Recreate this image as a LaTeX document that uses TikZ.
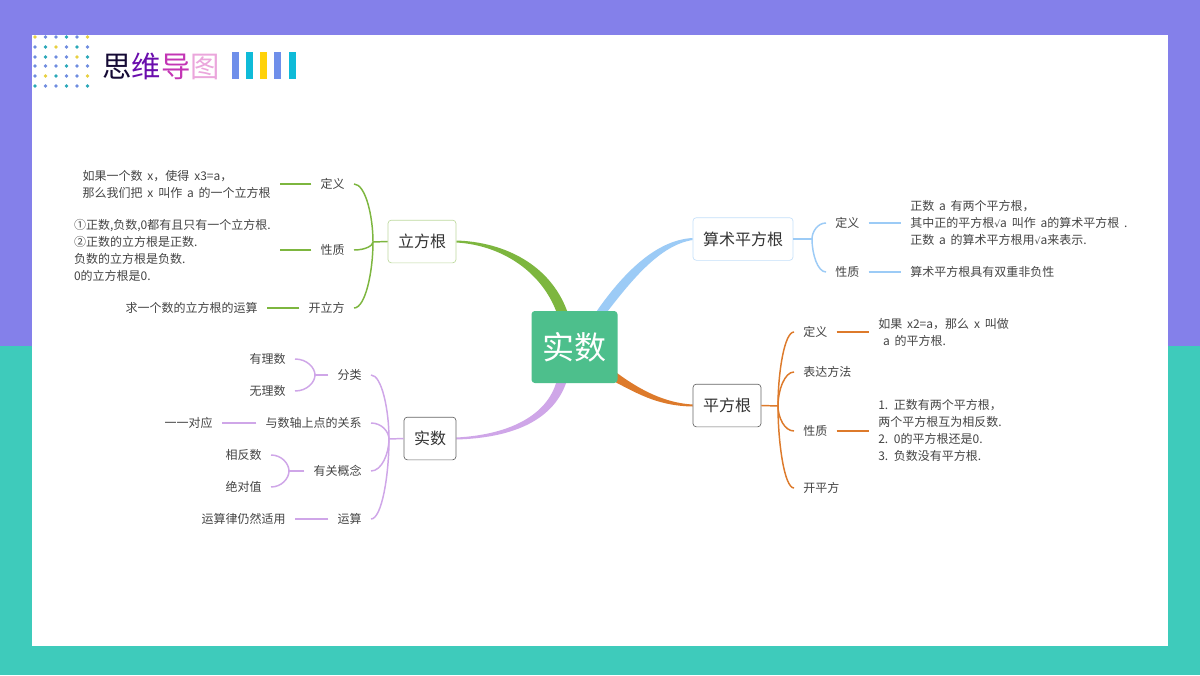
\documentclass[tikz,border=0pt]{standalone}
\usepackage{xcolor}
\usepackage{fontspec}
\setmainfont[WordSpace=1.8]{Noto Sans CJK SC}
\newfontfamily\sqfont{DejaVu Sans}
\usetikzlibrary{calc,backgrounds}

\definecolor{bgtop}{HTML}{8480EA}
\definecolor{bgbot}{HTML}{3ECBBB}
\definecolor{rootc}{HTML}{4DBF8C}
\definecolor{greenc}{HTML}{7DB63F}
\definecolor{bluec}{HTML}{9CCBF6}
\definecolor{orangec}{HTML}{DD7A2B}
\definecolor{purplec}{HTML}{CFA6E8}
\definecolor{dy}{HTML}{E8D040}
\definecolor{db}{HTML}{6F8CE0}
\definecolor{dt}{HTML}{2AA8B8}
\definecolor{txt}{HTML}{444444}
\definecolor{barb}{HTML}{6F8FEA}
\definecolor{bart}{HTML}{0FBBD8}
\definecolor{bary}{HTML}{FFD20A}

\newcommand{\sqr}{{\sqfont\fontsize{7}{7}\selectfont √}}

\tikzset{
  leaf/.style={inner xsep=6.75pt, inner ysep=0pt, align=left, text=txt,
    font=\fontsize{9}{12.75}\selectfont},
  topic/.style={draw, rounded corners=2.5pt, line width=.5pt, fill=white, inner sep=0pt,
    text=black!80, font=\fontsize{12}{14}\selectfont, minimum height=32pt},
  greenline/.style={draw=greenc, line width=1.1pt},
  blueline/.style={draw=bluec, line width=1.1pt},
  orangeline/.style={draw=orangec, line width=1.1pt},
  purpleline/.style={draw=purplec, line width=1.1pt},
}

\begin{document}
\begin{tikzpicture}[x=.75pt,y=-.75pt]
\useasboundingbox (0,0) rectangle (1200,675);

%Central node and topics
\node[fill=rootc, rounded corners=2.5pt, minimum width=64.5pt, minimum height=54pt, inner sep=0pt,
  text=white, font=\fontsize{24}{28}\selectfont] (root) at (574.5,347) {实数};
\node[topic, draw=greenc!50, minimum width=51pt] (lifang) at (422,241.5) {立方根};
\node[topic, draw=bluec!60, minimum width=75pt] (suanshu) at (743,239) {算术平方根};
\node[topic, draw=black!60, minimum width=51pt] (pingfang) at (727,405.5) {平方根};
\node[topic, draw=black!60, minimum width=39pt] (shishu) at (430,438.5) {实数};

%Background
\begin{scope}[on background layer]
\fill[bgtop] (0,0) rectangle (1200,346);
\fill[bgbot] (0,346) rectangle (1200,675);
\fill[white] (32,35) rectangle (1168,646);
%Thick branches
\fill[greenc] ($(lifang.east)+(0,-1)$) .. controls (505,242) and (550,265) .. ($(root.north)+(-7.5,0)$)
  -- ++(0,10) -- ++(-11,0) -- ($(root.north)+(-18.5,0)$)
  .. controls (540,270) and (500,245) .. ($(lifang.east)+(0,1)$) -- cycle;
\fill[bluec] ($(suanshu.west)+(0,-1)$) .. controls (655,240) and (622,275) .. ($(root.north)+(22.5,0)$)
  -- ++(0,10) -- ++(11,0) -- ($(root.north)+(33.5,0)$)
  .. controls (632,280) and (660,245) .. ($(suanshu.west)+(0,1)$) -- cycle;
\fill[orangec] ($(pingfang.west)+(0,-1)$) .. controls (665,403) and (640,390) .. (617,373)
  -- ++(-10,-6) -- ++(0,10) -- (617,383)
  .. controls (640,395) and (660,406) .. ($(pingfang.west)+(0,1)$) -- cycle;
\fill[purplec] ($(shishu.east)+(0,1)$) .. controls (510,438) and (552,422) .. ($(root.south)+(-8.5,0)$)
  -- ++(0,-10) -- ++(-10,0) -- ($(root.south)+(-18.5,0)$)
  .. controls (545,418) and (505,435) .. ($(shishu.east)+(0,-1)$) -- cycle;
\end{scope}

%Title
\foreach \r/\cols in {37/{dy,db,db,dt,db,dy},47/{db,dt,dy,db,dt,db},57/{db,dt,db,db,dy,dt},
  66/{db,db,db,dt,db,db},76/{db,dy,dt,db,db,dy},86/{dt,db,db,dt,db,dt}}
  \foreach \c [count=\i] in \cols
    \fill[\c] ({24.5+10.5*\i},\r) circle (1.4pt);
\node[inner sep=0pt, font=\fontsize{22}{26}\selectfont] (title) at (161,66)
  {\textcolor[HTML]{150A35}{思}\textcolor[HTML]{6A0DAD}{维}\textcolor[HTML]{C335B5}{导}\textcolor[HTML]{EBA6DC}{图}};
\foreach \x/\c in {232/barb,246/bart,260/bary,274/barb,289/bart}
  \fill[\c] (\x,52) rectangle ++(6.5,27);

%Lifang
\coordinate (hubg) at (373,242);
\node[leaf,anchor=east] (lf1) at (354,184) {定义};
\node[leaf,anchor=east] (lf2) at (354,250) {性质};
\node[leaf,anchor=east] (lf3) at (354,308) {开立方};
\node[leaf,anchor=east] (lfa) at (280,184) {如果一个数 x，使得 x3=a，\\那么我们把 x 叫作 a 的一个立方根};
\node[leaf,anchor=east] (lfb) at (280,250) {①正数,负数,0都有且只有一个立方根.\\②正数的立方根是正数.\\负数的立方根是负数.\\0的立方根是0.};
\node[leaf,anchor=east] (lfc) at (267,308) {求一个数的立方根的运算};
\draw[greenline] (lifang.west) -- (hubg);
\foreach \c in {lf1,lf2,lf3}
  \draw[greenline] (hubg) .. controls ($(hubg)!.45!(hubg |- \c.east)$) and ($(hubg |- \c.east)!.4!(\c.east)$) .. (\c.east);
\foreach \a/\b in {lf1/lfa,lf2/lfb,lf3/lfc}
  \draw[greenline] (\a.west) -- (\b.east |- \a.west);

%Suanshu
\coordinate (hubb) at (812,239);
\node[leaf,anchor=west] (ss1) at (826,223) {定义};
\node[leaf,anchor=west] (ss2) at (826,272) {性质};
\node[leaf,anchor=west] (ssa) at (901,223) {正数 a 有两个平方根，\\其中正的平方根\sqr a 叫作 a的算术平方根 .\\正数 a 的算术平方根用\sqr a来表示.};
\node[leaf,anchor=west] (ssb) at (901,272) {算术平方根具有双重非负性};
\draw[blueline] (suanshu.east) -- (hubb);
\foreach \c in {ss1,ss2}
  \draw[blueline] (hubb) .. controls ($(hubb)!.45!(hubb |- \c.west)$) and ($(hubb |- \c.west)!.4!(\c.west)$) .. (\c.west);
\foreach \a/\b in {ss1/ssa,ss2/ssb}
  \draw[blueline] (\a.east) -- (\b.west);

%Pingfang
\coordinate (hubo) at (778,406);
\node[leaf,anchor=west] (pf1) at (794,332) {定义};
\node[leaf,anchor=west] (pf2) at (794,372) {表达方法};
\node[leaf,anchor=west] (pf3) at (794,431) {性质};
\node[leaf,anchor=west] (pf4) at (794,488) {开平方};
\node[leaf,anchor=west] (pfa) at (869,332.5) {如果 x2=a，那么 x 叫做\\\ a 的平方根.};
\node[leaf,anchor=west] (pfb) at (869,430.5) {1. 正数有两个平方根，\\两个平方根互为相反数.\\2. 0的平方根还是0.\\3. 负数没有平方根.};
\draw[orangeline] (pingfang.east) -- (hubo);
\foreach \c in {pf1,pf2,pf3,pf4}
  \draw[orangeline] (hubo) .. controls ($(hubo)!.45!(hubo |- \c.west)$) and ($(hubo |- \c.west)!.4!(\c.west)$) .. (\c.west);
\foreach \a/\b in {pf1/pfa,pf3/pfb}
  \draw[orangeline] (\a.east) -- (\b.west |- \a.east);

%Shishu
\coordinate (hubp) at (389,439);
\node[leaf,anchor=east] (sh1) at (371,375) {分类};
\node[leaf,anchor=east] (sh2) at (371,423) {与数轴上点的关系};
\node[leaf,anchor=east] (sh3) at (371,471) {有关概念};
\node[leaf,anchor=east] (sh4) at (371,519) {运算};
\node[leaf,anchor=east] (sha) at (295,359) {有理数};
\node[leaf,anchor=east] (shb) at (295,391) {无理数};
\node[leaf,anchor=east] (shc) at (222,423) {一一对应};
\node[leaf,anchor=east] (shd) at (271,455) {相反数};
\node[leaf,anchor=east] (she) at (271,487) {绝对值};
\node[leaf,anchor=east] (shf) at (295,519) {运算律仍然适用};
\coordinate (hubq) at (315,375);
\coordinate (hubr) at (289,471);
\draw[purpleline] (shishu.west) -- (hubp);
\foreach \c in {sh1,sh2,sh3,sh4}
  \draw[purpleline] (hubp) .. controls ($(hubp)!.45!(hubp |- \c.east)$) and ($(hubp |- \c.east)!.4!(\c.east)$) .. (\c.east);
\draw[purpleline] (sh1.west) -- (hubq);
\foreach \c in {sha,shb}
  \draw[purpleline] (hubq) .. controls ($(hubq)!.45!(hubq |- \c.east)$) and ($(hubq |- \c.east)!.4!(\c.east)$) .. (\c.east);
\draw[purpleline] (sh3.west) -- (hubr);
\foreach \c in {shd,she}
  \draw[purpleline] (hubr) .. controls ($(hubr)!.45!(hubr |- \c.east)$) and ($(hubr |- \c.east)!.4!(\c.east)$) .. (\c.east);
\draw[purpleline] (sh2.west) -- (shc.east);
\draw[purpleline] (sh4.west) -- (shf.east);

\end{tikzpicture}
\end{document}
